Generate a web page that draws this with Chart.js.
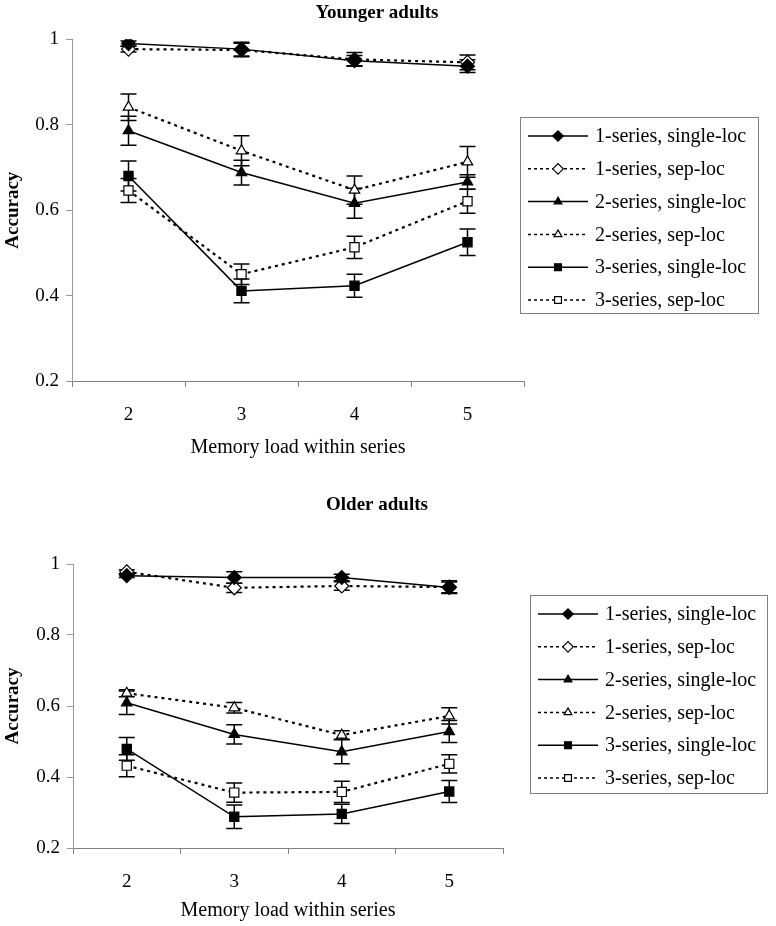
<!DOCTYPE html>
<html>
<head>
<meta charset="utf-8">
<script src="https://cdn.jsdelivr.net/npm/chart.js@4.4.1/dist/chart.umd.min.js"></script>
<style>
  body { margin: 0; background: #fff; }
  .wrap { position: absolute; left: 0; width: 776px; height: 463px; }
</style>
</head>
<body>
<div class="wrap" style="top:0"><canvas id="young"></canvas></div>
<div class="wrap" style="top:463px"><canvas id="old"></canvas></div>
<script>
// memory load on the x axis
const loads = ['2', '3', '4', '5'];
const seriesNames = ['1-series, single-loc', '1-series, sep-loc', '2-series, single-loc',
                     '2-series, sep-loc', '3-series, single-loc', '3-series, sep-loc'];
const yTicks = [0.2, 0.4, 0.6, 0.8, 1];

// younger adults - mean accuracy
const young1Single = [0.990, 0.977, 0.950, 0.937];
const young1Sep    = [0.977, 0.975, 0.953, 0.946];
const young2Single = [0.786, 0.688, 0.616, 0.666];
const young2Sep    = [0.841, 0.739, 0.647, 0.713];
const young3Single = [0.680, 0.411, 0.423, 0.525];
const young3Sep    = [0.646, 0.450, 0.513, 0.621];
// younger adults - error bars (+/-)
const youngErr1Single = [0.006, 0.016, 0.012, 0.015];
const youngErr1Sep    = [0.007, 0.016, 0.016, 0.017];
const youngErr2Single = [0.034, 0.029, 0.035, 0.017];
const youngErr2Sep    = [0.031, 0.035, 0.033, 0.036];
const youngErr3Single = [0.035, 0.028, 0.027, 0.031];
const youngErr3Sep    = [0.028, 0.024, 0.026, 0.028];

// older adults - mean accuracy
const old1Single = [0.967, 0.962, 0.962, 0.934];
const old1Sep    = [0.978, 0.933, 0.938, 0.935];
const old2Single = [0.609, 0.520, 0.471, 0.528];
const old2Sep    = [0.636, 0.595, 0.518, 0.572];
const old3Single = [0.479, 0.288, 0.296, 0.359];
const old3Sep    = [0.432, 0.356, 0.358, 0.437];
// older adults - error bars (+/-)
const oldErr1Single = [0.005, 0.016, 0.009, 0.015];
const oldErr1Sep    = [0.006, 0.013, 0.012, 0.018];
const oldErr2Single = [0.033, 0.027, 0.034, 0.031];
const oldErr2Sep    = [0.010, 0.015, 0.012, 0.023];
const oldErr3Single = [0.032, 0.033, 0.027, 0.031];
const oldErr3Sep    = [0.031, 0.027, 0.030, 0.026];

const serif = "'Liberation Serif', 'Times New Roman', serif";
Chart.defaults.font.family = serif;
Chart.defaults.color = '#000';

const markers = ['rectRot', 'rectRot', 'triangle', 'triangle', 'rect', 'rect'];
const filled = [true, false, true, false, true, false];
const markerSize = { rectRot: 7, triangle: 6, rect: 6.5 };

function makeSets(values, errors) {
  return values.map((v, i) => ({
    label: seriesNames[i],
    data: v,
    errors: errors[i],
    borderColor: '#000',
    borderWidth: filled[i] ? 1.5 : 2.2,
    borderDash: filled[i] ? [] : [3, 4],
    pointStyle: markers[i],
    pointRadius: markerSize[markers[i]],
    pointBackgroundColor: filled[i] ? '#000' : '#fff',
    pointBorderColor: '#000',
    pointBorderWidth: 1.2,
    tension: 0,
    fill: false
  }));
}

// vertical error bars with caps, behind the markers
const errorBars = {
  id: 'errorBars',
  beforeDatasetsDraw(chart) {
    const ctx = chart.ctx, y = chart.scales.y;
    ctx.save();
    ctx.strokeStyle = '#000';
    ctx.lineWidth = 1.5;
    chart.data.datasets.forEach((ds, i) => {
      chart.getDatasetMeta(i).data.forEach((pt, j) => {
        const top = y.getPixelForValue(ds.data[j] + ds.errors[j]);
        const bot = y.getPixelForValue(ds.data[j] - ds.errors[j]);
        ctx.beginPath();
        ctx.moveTo(pt.x, top); ctx.lineTo(pt.x, bot);
        ctx.moveTo(pt.x - 8, top); ctx.lineTo(pt.x + 8, top);
        ctx.moveTo(pt.x - 8, bot); ctx.lineTo(pt.x + 8, bot);
        ctx.stroke();
      });
    });
    ctx.restore();
  }
};

// boxed legend on the right, line sample + marker + label
const boxLegend = {
  id: 'boxLegend',
  afterDraw(chart, args, o) {
    const ctx = chart.ctx;
    ctx.save();
    ctx.strokeStyle = '#808080';
    ctx.lineWidth = 1;
    ctx.strokeRect(o.left + 0.5, o.top + 0.5, o.width, o.height);
    ctx.font = '20px ' + serif;
    ctx.textBaseline = 'middle';
    chart.data.datasets.forEach((ds, i) => {
      const yy = o.top + o.first + i * o.row;
      ctx.strokeStyle = '#000';
      ctx.lineWidth = 1.5;
      ctx.setLineDash(ds.borderDash.length ? [3, 3] : []);
      ctx.beginPath();
      ctx.moveTo(o.left + 8, yy); ctx.lineTo(o.left + 68, yy);
      ctx.stroke();
      ctx.setLineDash([]);
      ctx.fillStyle = ds.pointBackgroundColor;
      ctx.lineWidth = 1.2;
      Chart.helpers.drawPoint(ctx, { pointStyle: ds.pointStyle, radius: ds.pointRadius * 0.75, borderWidth: 1.2, rotation: 0 }, o.left + 38, yy);
      ctx.fillStyle = '#000';
      ctx.fillText(ds.label, o.left + 75, yy + 1);
    });
    ctx.restore();
  }
};

function makeChart(id, cfg) {
  return new Chart(document.getElementById(id), {
    type: 'line',
    data: { labels: loads, datasets: makeSets(cfg.values, cfg.errors) },
    options: {
      responsive: true,
      maintainAspectRatio: false,
      animation: false,
      layout: { padding: { left: 0, right: 22, top: 0, bottom: 0 }, autoPadding: false },
      plugins: {
        legend: { display: false },
        tooltip: { enabled: false },
        title: {
          display: true, text: cfg.title, color: '#000',
          font: { family: serif, size: 19, weight: 'bold' },
          padding: cfg.titlePad
        },
        boxLegend: cfg.legend
      },
      scales: {
        x: {
          offset: true,
          grid: { offset: true, drawOnChartArea: false, tickLength: 6, color: '#808080' },
          border: { color: '#808080', width: 1 },
          ticks: { font: { size: 19 }, padding: 17, color: '#000' },
          title: { display: true, text: 'Memory load within series', font: { size: 20 }, padding: { top: 0, bottom: cfg.xTitlePad } },
          afterFit: s => { s.height = cfg.xHeight; }
        },
        y: {
          min: 0.2, max: 1,
          afterBuildTicks: s => { s.ticks = yTicks.map(v => ({ value: v })); },
          ticks: { font: { size: 19 }, padding: 7, color: '#000', callback: v => String(+v.toFixed(1)) },
          grid: { drawOnChartArea: false, tickLength: 6, color: '#999' },
          border: { color: '#999', width: 1 },
          title: { display: true, text: 'Accuracy', font: { size: 19, weight: 'bold' }, padding: { top: 2 } },
          afterFit: s => { s.width = cfg.yWidth; }
        },
        pad: {
          type: 'linear', position: 'right',
          grid: { display: false }, border: { display: false }, ticks: { display: false },
          afterFit: s => { s.width = cfg.rightWidth; }
        }
      }
    },
    plugins: [errorBars, boxLegend]
  });
}

makeChart('young', {
  title: 'Younger adults',
  values: [young1Single, young1Sep, young2Single, young2Sep, young3Single, young3Sep],
  errors: [youngErr1Single, youngErr1Sep, youngErr2Single, youngErr2Sep, youngErr3Single, youngErr3Sep],
  titlePad: { top: 2, bottom: 14.5 },
  yWidth: 72, xHeight: 82, rightWidth: 230, xTitlePad: 3.6,
  legend: { left: 520, top: 117, width: 238, height: 196, first: 19, row: 32.8 }
});

makeChart('old', {
  title: 'Older adults',
  values: [old1Single, old1Sep, old2Single, old2Sep, old3Single, old3Sep],
  errors: [oldErr1Single, oldErr1Sep, oldErr2Single, oldErr2Sep, oldErr3Single, oldErr3Sep],
  titlePad: { top: 30.6, bottom: 47.6 },
  yWidth: 73, xHeight: 78, rightWidth: 251, xTitlePad: 3.6,
  legend: { left: 530, top: 132, width: 237, height: 198, first: 19, row: 32.8 }
});
</script>
</body>
</html>
